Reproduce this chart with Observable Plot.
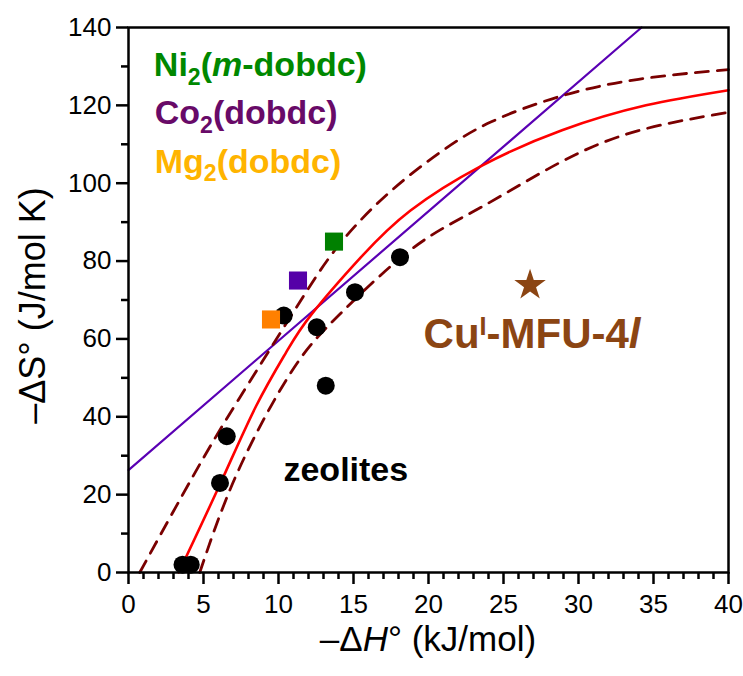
<!DOCTYPE html>
<html><head><meta charset="utf-8">
<script src="https://cdn.jsdelivr.net/npm/d3@7"></script>
<script src="https://cdn.jsdelivr.net/npm/@observablehq/plot@0.6"></script>
<style>body{margin:0;background:#fff;}</style>
</head><body><div id="chart"></div>
<script>
// ---- data ----
const zeoliteH = [3.6, 4.15, 6.1, 6.55, 10.35, 12.55, 13.15, 15.1, 18.1];
const zeoliteS = [2, 2, 23, 35, 66, 63, 48, 72, 81];

const mofNames = ["Mg2(dobdc)", "Co2(dobdc)", "Ni2(m-dobdc)"];
const mofH = [9.5, 11.3, 13.7];
const mofS = [65, 75, 85];

const cuName = "CuI-MFU-4l";
const cuH = [26.77];
const cuS = [73.8];

const fitH = [3.35, 6.2, 8.5, 10.5, 12.2, 15.5, 18.8, 23.5, 28.9, 34.5, 40];
const fitS = [0, 23.5, 42.7, 56.5, 66.3, 81, 93, 104.4, 113.6, 120, 123.9];

const upperH = [0.75, 4.4, 7.3, 10.85, 13.9, 17.35, 20.8, 24.15, 28.85, 34, 40];
const upperS = [0, 25.4, 44.2, 66, 83.5, 97.5, 108, 115.7, 122.4, 126.7, 129.2];

const lowerH = [4.75, 7.3, 10.85, 14, 18.85, 23.5, 28.85, 34, 40];
const lowerS = [0, 26, 51.5, 66, 83, 93.8, 105.5, 113.5, 118.2];

const mofLineH = [0, 34.2];
const mofLineS = [26.3, 140];

const xTicks = [0, 5, 10, 15, 20, 25, 30, 35, 40];
const yTicks = [0, 20, 40, 60, 80, 100, 120, 140];

// annotation labels (markup: <sub>, <sup>, <i>)
const labelText = ["Ni<sub>2</sub>(<i>m</i>-dobdc)", "Co<sub>2</sub>(dobdc)", "Mg<sub>2</sub>(dobdc)", "zeolites"];
const labelH = [1.69, 1.75, 1.75, 10.33];
const labelS = [130.3, 117.9, 105.5, 26.4];
const cuLabel = "Cu<sup>I</sup>-MFU-4<i>l</i>";
const cuLabelH = [19.67];
const cuLabelS = [61.2];

// ---- styles ----
const mofColors = ["#ff8000", "#5500a8", "#008000"];
const labelColors = ["#008800", "#680a68", "#ffb400", "#000000"];
const brown = "#8b4513";

const pts = (xs, ys) => xs.map((x, i) => ({x, y: ys[i]}));
const zeolites = pts(zeoliteH, zeoliteS);
const mofs = mofNames.map((name, i) => ({name, x: mofH[i], y: mofS[i], color: mofColors[i]}));
const cu = pts(cuH, cuS);
const labels = labelText.map((t, i) => ({t, x: labelH[i], y: labelS[i], color: labelColors[i]}));

const W = 743, H = 676, ML = 128, MR = 15, MT = 27, MB = 104;

const chart = Plot.plot({
  width: W, height: H,
  marginLeft: ML, marginRight: MR, marginTop: MT, marginBottom: MB,
  x: {domain: [0, 40]},
  y: {domain: [0, 140]},
  color: {type: "identity"},
  style: {fontFamily: "'Liberation Sans', Arial, sans-serif", fontSize: "26px", color: "black", background: "white"},
  marks: [
    Plot.line(pts(mofLineH, mofLineS), {x: "x", y: "y", stroke: "#5a00b4", strokeWidth: 2.2}),
    Plot.line(pts(upperH, upperS), {x: "x", y: "y", stroke: "#7a0000", strokeWidth: 2.8, strokeDasharray: "13,9", curve: "natural"}),
    Plot.line(pts(lowerH, lowerS), {x: "x", y: "y", stroke: "#7a0000", strokeWidth: 2.8, strokeDasharray: "13,9", curve: "natural"}),
    Plot.line(pts(fitH, fitS), {x: "x", y: "y", stroke: "#ff0000", strokeWidth: 2.6, curve: "natural"}),
    Plot.dot(zeolites, {x: "x", y: "y", r: 9, fill: "black"}),
    Plot.dot(mofs, {x: "x", y: "y", symbol: "square", r: 10.2, fill: "color"}),
    Plot.dot(cu, {x: "x", y: "y", symbol: "star", r: 9.9, fill: brown}),
    Plot.text(labels, {x: "x", y: "y", text: "t", fill: "color", textAnchor: "start", fontSize: 34, fontWeight: "bold"}),
    Plot.text([{t: cuLabel, x: cuLabelH[0], y: cuLabelS[0]}], {x: "x", y: "y", text: "t", fill: brown, textAnchor: "start", fontSize: 42, fontWeight: "bold"}),
    Plot.axisX({ticks: d3.range(0, 41, 1).filter(d => d % 5), tickSize: 7, tickFormat: () => "", label: null, strokeWidth: 2.5}),
    Plot.axisX({ticks: xTicks, tickSize: 12, tickPadding: 10, fontSize: 26, label: null, strokeWidth: 2.5}),
    Plot.axisY({ticks: d3.range(10, 140, 20), tickSize: 7, tickFormat: () => "", label: null, strokeWidth: 2.5}),
    Plot.axisY({ticks: yTicks, tickSize: 12, tickPadding: 5, fontSize: 26, label: null, strokeWidth: 2.5}),
    Plot.frame({stroke: "black", strokeWidth: 2.5})
  ]
});
document.getElementById("chart").appendChild(chart);

// rich-text labels: convert markup to tspans
function richify(textEl) {
  const src = textEl.textContent;
  const fs = parseFloat(textEl.getAttribute("font-size")) || 32;
  textEl.textContent = "";
  const re = /<(sub|sup|i)>(.*?)<\/\1>|([^<]+)/g;
  let m, pending = 0;
  while ((m = re.exec(src))) {
    const ts = document.createElementNS("http://www.w3.org/2000/svg", "tspan");
    if (m[3] !== undefined) {
      ts.textContent = m[3];
    } else {
      ts.textContent = m[2];
      if (m[1] === "i") ts.setAttribute("font-style", "italic");
      if (m[1] === "sub") ts.setAttribute("font-size", fs * 0.68);
      if (m[1] === "sup") ts.setAttribute("font-size", fs * 0.6);
    }
    let dy = -pending;
    if (m[1] === "sub") { dy += fs * 0.25; pending = fs * 0.25; }
    else if (m[1] === "sup") { dy += -fs * 0.3; pending = -fs * 0.3; }
    else pending = 0;
    if (dy) ts.setAttribute("dy", dy);
    textEl.appendChild(ts);
  }
}
d3.select(chart).selectAll("text").each(function() {
  const el = this;
  if (/<(sub|sup|i)>/.test(el.textContent)) {
    const g = el.closest("g[font-size]");
    if (g && !el.getAttribute("font-size")) el.setAttribute("font-size", g.getAttribute("font-size"));
    richify(el);
  }
});

// axis titles
const svg = d3.select(chart);
const xt = svg.append("text")
  .attr("x", ML + (W - ML - MR) / 2).attr("y", H - 25)
  .attr("text-anchor", "middle").attr("font-size", 35).attr("fill", "black");
xt.append("tspan").text("\u2013\u0394");
xt.append("tspan").attr("font-style", "italic").text("H");
xt.append("tspan").text("\u00B0 (kJ/mol)");

const yt = svg.append("text")
  .attr("transform", `translate(45, ${MT + (H - MT - MB) / 2 + 6}) rotate(-90)`)
  .attr("text-anchor", "middle").attr("font-size", 36).attr("fill", "black");
yt.append("tspan").text("\u2013\u0394S\u00B0 (J/mol K)");
</script>
</body></html>
